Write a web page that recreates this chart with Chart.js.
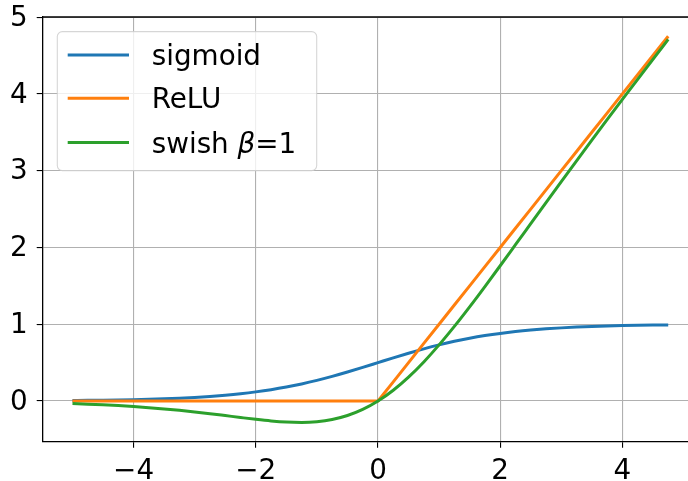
<!DOCTYPE html>
<html>
<head>
<meta charset="utf-8">
<script src="https://cdn.jsdelivr.net/npm/chart.js@4"></script>
<style>
  html, body { margin: 0; padding: 0; background: #fff; overflow: hidden; }
</style>
</head>
<body>
<canvas id="chart" width="698" height="481"></canvas>
<script>
const xs = [-5, -4.75, -4.5, -4.25, -4, -3.75, -3.5, -3.25, -3, -2.75, -2.5, -2.25, -2, -1.75, -1.5, -1.25, -1, -0.75, -0.5, -0.25,
  0, 0.25, 0.5, 0.75, 1, 1.25, 1.5, 1.75, 2, 2.25, 2.5, 2.75, 3, 3.25, 3.5, 3.75, 4, 4.25, 4.5, 4.75];

const sigmoid = [0.0067, 0.0086, 0.0110, 0.0141, 0.0180, 0.0230, 0.0293, 0.0373, 0.0474, 0.0601, 0.0759, 0.0953, 0.1192, 0.1480, 0.1824, 0.2227, 0.2689, 0.3208, 0.3775, 0.4378,
  0.5, 0.5622, 0.6225, 0.6792, 0.7311, 0.7773, 0.8176, 0.8520, 0.8808, 0.9047, 0.9241, 0.9399, 0.9526, 0.9627, 0.9707, 0.9770, 0.9820, 0.9859, 0.9890, 0.9914];

const relu = [0, 0, 0, 0, 0, 0, 0, 0, 0, 0, 0, 0, 0, 0, 0, 0, 0, 0, 0, 0,
  0, 0.25, 0.5, 0.75, 1, 1.25, 1.5, 1.75, 2, 2.25, 2.5, 2.75, 3, 3.25, 3.5, 3.75, 4, 4.25, 4.5, 4.75];

const swish = [-0.0335, -0.0408, -0.0495, -0.0598, -0.0719, -0.0862, -0.1026, -0.1213, -0.1423, -0.1652, -0.1897, -0.2145, -0.2384, -0.2591, -0.2736, -0.2784, -0.2689, -0.2406, -0.1888, -0.1095,
  0, 0.1405, 0.3112, 0.5094, 0.7311, 0.9716, 1.2264, 1.4909, 1.7616, 2.0355, 2.3104, 2.5847, 2.8577, 3.1287, 3.3974, 3.6638, 3.9281, 4.1902, 4.4505, 4.7092];

const xTicks = [-4, -2, 0, 2, 4];
const yTicks = [0, 1, 2, 3, 4, 5];

const FONT = "DejaVu Sans";
const toPoints = ys => xs.map((x, i) => ({ x, y: ys[i] }));
const fmt = v => String(v).replace("-", "\u2212");

// top spine + matplotlib-style legend
const extras = {
  id: "extras",
  afterDatasetsDraw(chart) {
    const { ctx, chartArea: a } = chart;
    ctx.save();
    ctx.strokeStyle = "#000";
    ctx.lineWidth = 1.3;
    ctx.beginPath();
    ctx.moveTo(a.left, a.top);
    ctx.lineTo(a.right, a.top);
    ctx.stroke();

    // legend box
    const bx = a.left + 14.6, by = a.top + 14.6, bw = 259.4, bh = 139, r = 5;
    ctx.beginPath();
    ctx.moveTo(bx + r, by);
    ctx.arcTo(bx + bw, by, bx + bw, by + bh, r);
    ctx.arcTo(bx + bw, by + bh, bx, by + bh, r);
    ctx.arcTo(bx, by + bh, bx, by, r);
    ctx.arcTo(bx, by, bx + bw, by, r);
    ctx.closePath();
    ctx.fillStyle = "rgba(255,255,255,0.8)";
    ctx.fill();
    ctx.strokeStyle = "rgba(204,204,204,0.8)";
    ctx.lineWidth = 1.1;
    ctx.stroke();

    const rowY = [by + 23.3, by + 66.6, by + 111];
    chart.data.datasets.forEach((ds, i) => {
      const y = rowY[i];
      ctx.strokeStyle = ds.borderColor;
      ctx.lineWidth = 3;
      ctx.beginPath();
      ctx.moveTo(bx + 10.4, y);
      ctx.lineTo(bx + 71.7, y);
      ctx.stroke();

      ctx.fillStyle = "#000";
      ctx.textBaseline = "alphabetic";
      ctx.textAlign = "left";
      let tx = bx + 94.4;
      const ty = y + 10;
      (ds.legendParts || [[ds.label, false]]).forEach(([t, italic]) => {
        ctx.font = (italic ? "oblique " : "") + "27.8px '" + FONT + "'";
        ctx.fillText(t, tx, ty);
        tx += ctx.measureText(t).width;
      });
    });
    ctx.restore();
  }
};

new Chart(document.getElementById("chart"), {
  type: "line",
  data: {
    datasets: [
      { label: "sigmoid", data: toPoints(sigmoid), borderColor: "#1f77b4", order: 2, cubicInterpolationMode: "monotone" },
      { label: "ReLU", data: toPoints(relu), borderColor: "#ff7f0e", order: 1 },
      { label: "swish \u03b2=1", legendParts: [["swish ", false], ["\u03b2", true], ["=1", false]],
        data: toPoints(swish), borderColor: "#2ca02c", order: 0, cubicInterpolationMode: "monotone" }
    ]
  },
  options: {
    responsive: false,
    animation: false,
    devicePixelRatio: 1,
    layout: { padding: { top: 17, left: 0, right: 0, bottom: 0 } },
    elements: {
      point: { radius: 0 },
      line: { borderWidth: 3, tension: 0, fill: false, borderCapStyle: "butt", borderJoinStyle: "round" }
    },
    plugins: { legend: { display: false }, tooltip: { enabled: false } },
    scales: {
      x: {
        type: "linear",
        min: -5.4875,
        max: 5.2375,
        afterBuildTicks: s => { s.ticks = xTicks.map(v => ({ value: v })); },
        afterFit: s => { s.height = 39.3; s.paddingLeft = 0; s.paddingRight = 0; },
        grid: { color: "#b0b0b0", lineWidth: 1.1, tickColor: "#000", tickLength: 6, tickWidth: 1.1 },
        border: { color: "#000", width: 1.3 },
        ticks: { font: { family: FONT, size: 27.8 }, color: "#000", padding: 7, maxRotation: 0, callback: v => fmt(v) }
      },
      y: {
        type: "linear",
        min: -0.5298,
        max: 5.0014,
        afterBuildTicks: s => { s.ticks = yTicks.map(v => ({ value: v })); },
        afterFit: s => { s.width = 42.7; s.paddingTop = 0; s.paddingBottom = 0; },
        grid: { color: "#b0b0b0", lineWidth: 1.1, tickColor: "#000", tickLength: 6, tickWidth: 1.1 },
        border: { color: "#000", width: 1.3 },
        ticks: { font: { family: FONT, size: 27.8 }, color: "#000", padding: 9, labelOffset: 1.5, callback: v => fmt(v) }
      }
    }
  },
  plugins: [extras]
});
</script>
</body>
</html>
